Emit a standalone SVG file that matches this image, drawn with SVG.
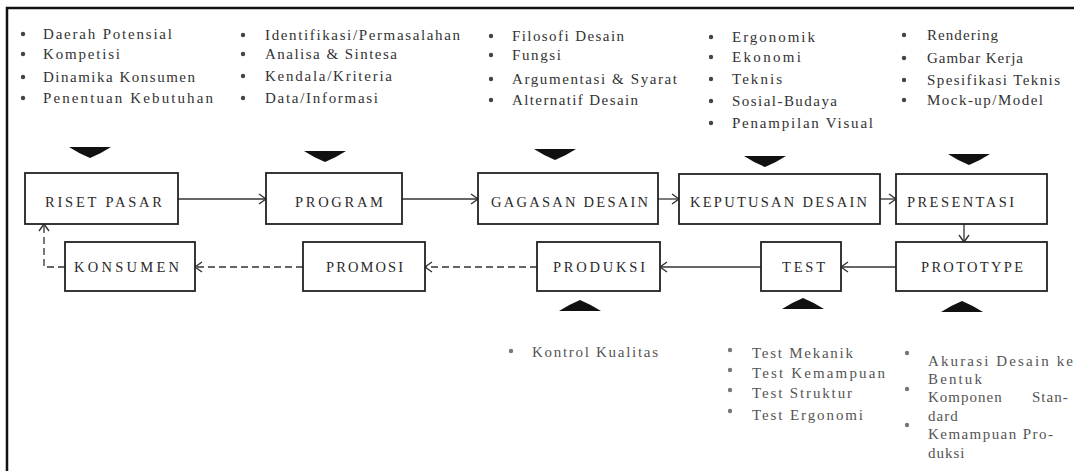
<svg xmlns="http://www.w3.org/2000/svg" width="1074" height="471" viewBox="0 0 1074 471">
<style>
.t{font-family:"Liberation Serif","Times New Roman",serif;font-size:15px;fill:#333}
.tb{font-family:"Liberation Serif","Times New Roman",serif;font-size:15px;fill:#555}
.lbl{font-family:"Liberation Serif","Times New Roman",serif;font-size:14.5px;fill:#2a2a2a}
.box{fill:#fff;stroke:#222;stroke-width:1.8}
.c{fill:none;stroke:#333;stroke-width:1.3}
.d{stroke-dasharray:7 4}
.tri{fill:#111}
.b{fill:#444}
.bl{fill:#777}
</style>
<defs>
<marker id="ah" markerWidth="12" markerHeight="12" refX="9" refY="6" orient="auto" markerUnits="userSpaceOnUse">
<path d="M2,1 L9,6 L2,11" fill="none" stroke="#333" stroke-width="1.4"/>
</marker>
</defs>
<rect x="0" y="0" width="1074" height="471" fill="#fff"/>
<path d="M7,471 V8 H1074" fill="none" stroke="#111" stroke-width="2.5"/>

<g id="connectors">
<path class="c" d="M178,199 H266" marker-end="url(#ah)"/>
<path class="c" d="M402,199 H478" marker-end="url(#ah)"/>
<path class="c" d="M658,199 H679" marker-end="url(#ah)"/>
<path class="c" d="M880,199 H896" marker-end="url(#ah)"/>
<path class="c" d="M964,224 V242" marker-end="url(#ah)"/>
<path class="c" d="M896,267 H841" marker-end="url(#ah)"/>
<path class="c" d="M761,267 H660" marker-end="url(#ah)"/>
<path class="c d" d="M537,267 H425" marker-end="url(#ah)"/>
<path class="c d" d="M303,267 H195" marker-end="url(#ah)"/>
<path class="c d" d="M65,267 H44 V224" marker-end="url(#ah)"/>
</g>

<g id="riset-pasar">
<rect class="box" x="25" y="173" width="153" height="51"/>
<text class="lbl" x="45" y="207" textLength="117" lengthAdjust="spacing">RISET PASAR</text>
<path class="tri" d="M69,147 L111,147 Q102,153 90,158 Q78,153 69,147 Z"/>
<circle class="b" cx="23" cy="34" r="2.2"/><text class="t" x="43" y="39" textLength="129" lengthAdjust="spacing">Daerah Potensial</text>
<circle class="b" cx="23" cy="54" r="2.2"/><text class="t" x="43" y="59" textLength="77" lengthAdjust="spacing">Kompetisi</text>
<circle class="b" cx="23" cy="77" r="2.2"/><text class="t" x="43" y="82" textLength="152" lengthAdjust="spacing">Dinamika Konsumen</text>
<circle class="b" cx="23" cy="98" r="2.2"/><text class="t" x="43" y="103" textLength="170" lengthAdjust="spacing">Penentuan Kebutuhan</text>
</g>

<g id="program">
<rect class="box" x="266" y="173" width="136" height="51"/>
<text class="lbl" x="295" y="207" textLength="88" lengthAdjust="spacing">PROGRAM</text>
<path class="tri" d="M304,151 L346,151 Q337,157 325,162 Q313,157 304,151 Z"/>
<circle class="b" cx="243" cy="35" r="2.2"/><text class="t" x="265" y="40" textLength="195" lengthAdjust="spacing">Identifikasi/Permasalahan</text>
<circle class="b" cx="243" cy="54" r="2.2"/><text class="t" x="265" y="59" textLength="132" lengthAdjust="spacing">Analisa &amp; Sintesa</text>
<circle class="b" cx="243" cy="76" r="2.2"/><text class="t" x="265" y="81" textLength="127" lengthAdjust="spacing">Kendala/Kriteria</text>
<circle class="b" cx="243" cy="98" r="2.2"/><text class="t" x="265" y="103" textLength="113" lengthAdjust="spacing">Data/Informasi</text>
</g>

<g id="gagasan-desain">
<rect class="box" x="478" y="173" width="180" height="51"/>
<text class="lbl" x="491" y="207" textLength="157" lengthAdjust="spacing">GAGASAN DESAIN</text>
<path class="tri" d="M534,149 L576,149 Q567,155 555,160 Q543,155 534,149 Z"/>
<circle class="b" cx="491" cy="36" r="2.2"/><text class="t" x="512" y="41" textLength="112" lengthAdjust="spacing">Filosofi Desain</text>
<circle class="b" cx="491" cy="55" r="2.2"/><text class="t" x="512" y="60" textLength="49" lengthAdjust="spacing">Fungsi</text>
<circle class="b" cx="491" cy="79" r="2.2"/><text class="t" x="512" y="84" textLength="165" lengthAdjust="spacing">Argumentasi &amp; Syarat</text>
<circle class="b" cx="491" cy="100" r="2.2"/><text class="t" x="512" y="105" textLength="126" lengthAdjust="spacing">Alternatif Desain</text>
</g>

<g id="keputusan-desain">
<rect class="box" x="679" y="174" width="201" height="50"/>
<text class="lbl" x="690" y="207" textLength="177" lengthAdjust="spacing">KEPUTUSAN DESAIN</text>
<path class="tri" d="M744,156 L786,156 Q777,162 765,167 Q753,162 744,156 Z"/>
<circle class="b" cx="711" cy="37" r="2.2"/><text class="t" x="732" y="42" textLength="83" lengthAdjust="spacing">Ergonomik</text>
<circle class="b" cx="711" cy="57" r="2.2"/><text class="t" x="732" y="62" textLength="69" lengthAdjust="spacing">Ekonomi</text>
<circle class="b" cx="711" cy="79" r="2.2"/><text class="t" x="732" y="84" textLength="50" lengthAdjust="spacing">Teknis</text>
<circle class="b" cx="711" cy="101" r="2.2"/><text class="t" x="732" y="106" textLength="105" lengthAdjust="spacing">Sosial-Budaya</text>
<circle class="b" cx="711" cy="123" r="2.2"/><text class="t" x="732" y="128" textLength="141" lengthAdjust="spacing">Penampilan Visual</text>
</g>

<g id="presentasi">
<rect class="box" x="896" y="174" width="151" height="50"/>
<text class="lbl" x="907" y="207" textLength="107" lengthAdjust="spacing">PRESENTASI</text>
<path class="tri" d="M948,154 L990,154 Q981,160 969,165 Q957,160 948,154 Z"/>
<circle class="b" cx="904" cy="35" r="2.2"/><text class="t" x="927" y="40" textLength="71" lengthAdjust="spacing">Rendering</text>
<circle class="b" cx="904" cy="58" r="2.2"/><text class="t" x="927" y="63" textLength="96" lengthAdjust="spacing">Gambar Kerja</text>
<circle class="b" cx="904" cy="80" r="2.2"/><text class="t" x="927" y="85" textLength="133" lengthAdjust="spacing">Spesifikasi Teknis</text>
<circle class="b" cx="904" cy="100" r="2.2"/><text class="t" x="927" y="105" textLength="116" lengthAdjust="spacing">Mock-up/Model</text>
</g>

<g id="konsumen">
<rect class="box" x="65" y="242" width="130" height="49"/>
<text class="lbl" x="74" y="272" textLength="105" lengthAdjust="spacing">KONSUMEN</text>
</g>

<g id="promosi">
<rect class="box" x="303" y="242" width="122" height="49"/>
<text class="lbl" x="326" y="272" textLength="77" lengthAdjust="spacing">PROMOSI</text>
</g>

<g id="produksi">
<rect class="box" x="537" y="242" width="123" height="49"/>
<text class="lbl" x="553" y="272" textLength="92" lengthAdjust="spacing">PRODUKSI</text>
<path class="tri" d="M559,311 L601,311 Q592,305 580,300 Q568,305 559,311 Z"/>
<circle class="bl" cx="511" cy="351" r="2.2"/><text class="tb" x="532" y="357" textLength="126" lengthAdjust="spacing">Kontrol Kualitas</text>
</g>

<g id="test">
<rect class="box" x="761" y="242" width="80" height="49"/>
<text class="lbl" x="782" y="272" textLength="43" lengthAdjust="spacing">TEST</text>
<path class="tri" d="M782,309 L824,309 Q815,303 803,298 Q791,303 782,309 Z"/>
<circle class="bl" cx="730" cy="350" r="2.2"/><text class="tb" x="752" y="358" textLength="101" lengthAdjust="spacing">Test Mekanik</text>
<circle class="bl" cx="730" cy="370" r="2.2"/><text class="tb" x="752" y="378" textLength="133" lengthAdjust="spacing">Test Kemampuan</text>
<circle class="bl" cx="730" cy="390" r="2.2"/><text class="tb" x="752" y="398" textLength="100" lengthAdjust="spacing">Test Struktur</text>
<circle class="bl" cx="730" cy="411" r="2.2"/><text class="tb" x="752" y="420" textLength="111" lengthAdjust="spacing">Test Ergonomi</text>
</g>

<g id="prototype">
<rect class="box" x="896" y="242" width="151" height="49"/>
<text class="lbl" x="921" y="272" textLength="102" lengthAdjust="spacing">PROTOTYPE</text>
<path class="tri" d="M941,312 L983,312 Q974,306 962,301 Q950,306 941,312 Z"/>
<circle class="bl" cx="907" cy="353" r="2.2"/><text class="tb" x="928" y="366" textLength="145" lengthAdjust="spacing">Akurasi Desain ke</text>
<text class="tb" x="928" y="384" textLength="54" lengthAdjust="spacing">Bentuk</text>
<circle class="bl" cx="907" cy="389" r="2.2"/><text class="tb" x="928" y="402" letter-spacing="1">Komponen<tspan x="1032">Stan-</tspan></text>
<text class="tb" x="928" y="421" letter-spacing="1">dard</text>
<circle class="bl" cx="907" cy="425" r="2.2"/><text class="tb" x="928" y="439" textLength="125" lengthAdjust="spacing">Kemampuan Pro-</text>
<text class="tb" x="928" y="458" letter-spacing="1">duksi</text>
</g>
</svg>
